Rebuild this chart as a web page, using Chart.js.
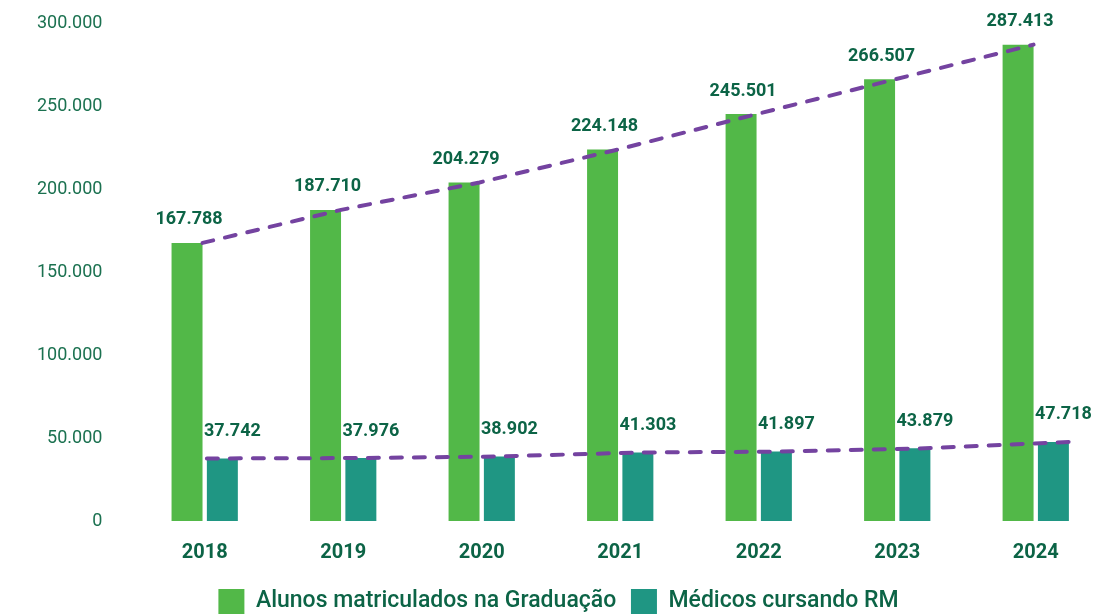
<!DOCTYPE html>
<html lang="pt-BR">
<head>
<meta charset="UTF-8">
<title>Graduação x Residência Médica</title>
<script src="https://cdn.jsdelivr.net/npm/chart.js"></script>
<style>
    html, body { margin: 0; padding: 0; background: #fff; overflow: hidden; }
    .wrap { width: 1105px; height: 624px; }
</style>
</head>
<body>
<div class="wrap"><canvas id="chart" width="1105" height="624"></canvas></div>
<script>
const years = ['2018', '2019', '2020', '2021', '2022', '2023', '2024'];
const graduacao = [167788, 187710, 204279, 224148, 245501, 266507, 287413];
const residencia = [37742, 37976, 38902, 41303, 41897, 43879, 47718];
const yTicks = [0, 50000, 100000, 150000, 200000, 250000, 300000];

const GREEN = '#52b848';
const TEAL = '#1f9683';
const PURPLE = '#7443a0';
const DARK = '#0c6446';
const FONT = 'Roboto, "Noto Sans", sans-serif';

function fmt(v) {
    return String(v).replace(/\B(?=(\d{3})+(?!\d))/g, '.');
}

// dashed trend lines over each series, placed with the y scale and the bar elements
const trendLines = {
    id: 'trendLines',
    afterDatasetsDraw(chart) {
        const ctx = chart.ctx;
        const yScale = chart.scales.y;
        ctx.save();
        ctx.strokeStyle = PURPLE;
        ctx.lineWidth = 4;
        ctx.lineCap = 'round';
        ctx.setLineDash([11, 12]);
        [[0, graduacao], [1, residencia]].forEach(([di, values]) => {
            const bars = chart.getDatasetMeta(di).data;
            ctx.beginPath();
            values.forEach((v, i) => {
                // green line runs along the right edges, teal one spreads edge to edge
                const k = di === 0 ? 0.5 : i / (values.length - 1) - 0.5;
                const px = bars[i].x + bars[i].width * k;
                const py = yScale.getPixelForValue(v);
                if (i === 0) ctx.moveTo(px, py); else ctx.lineTo(px, py);
            });
            ctx.stroke();
        });
        ctx.restore();
    }
};

const barLabels = {
    id: 'barLabels',
    afterDatasetsDraw(chart) {
        const ctx = chart.ctx;
        ctx.save();
        ctx.fillStyle = DARK;
        ctx.font = 'bold 18px ' + FONT;
        ctx.textAlign = 'center';
        ctx.textBaseline = 'bottom';
        [0, 1].forEach(di => {
            const meta = chart.getDatasetMeta(di);
            meta.data.forEach((bar, i) => {
                const v = chart.data.datasets[di].data[i];
                const dx = di === 1 ? 10 : 2;
                const dy = di === 1 ? 18 : 14;
                ctx.fillText(fmt(v), bar.x + dx, bar.y - dy);
            });
        });
        ctx.restore();
    }
};

new Chart(document.getElementById('chart'), {
    type: 'bar',
    data: {
        labels: years,
        datasets: [
            { label: 'Alunos matriculados na Graduação', data: graduacao, backgroundColor: GREEN,
              categoryPercentage: 0.51, barPercentage: 0.877 },
            { label: 'Médicos cursando RM', data: residencia, backgroundColor: TEAL,
              categoryPercentage: 0.51, barPercentage: 0.877 }
        ]
    },
    options: {
        responsive: false,
        animation: false,
        layout: { padding: { top: 0, right: 0, left: 12, bottom: 0 } },
        plugins: {
            legend: {
                position: 'bottom',
                labels: {
                    generateLabels: chart => {
                        const items = Chart.defaults.plugins.legend.labels.generateLabels(chart);
                        items.forEach(it => { if (it.datasetIndex === 0) it.text += '\u2002'; });
                        return items;
                    },
                    boxWidth: 26, boxHeight: 25,
                    color: DARK,
                    font: { family: FONT, size: 23, weight: '500', lineHeight: 1 },
                    padding: 3
                }
            },
            tooltip: { enabled: false }
        },
        scales: {
            x: {
                grid: { display: false },
                border: { display: false },
                ticks: { color: DARK, font: { family: FONT, size: 20, weight: 'bold' }, padding: 12 },
                afterFit: axis => { axis.height += 9; }
            },
            y: {
                min: 0, max: 300000,
                afterBuildTicks: axis => { axis.ticks = yTicks.map(v => ({ value: v })); },
                afterFit: axis => { axis.paddingTop -= 12; },
                grid: { display: false },
                border: { display: false },
                ticks: {
                    color: '#1b7150',
                    font: { family: FONT, size: 18 },
                    padding: 25,
                    callback: v => fmt(v)
                }
            }
        }
    },
    plugins: [trendLines, barLabels]
});
</script>
</body>
</html>
